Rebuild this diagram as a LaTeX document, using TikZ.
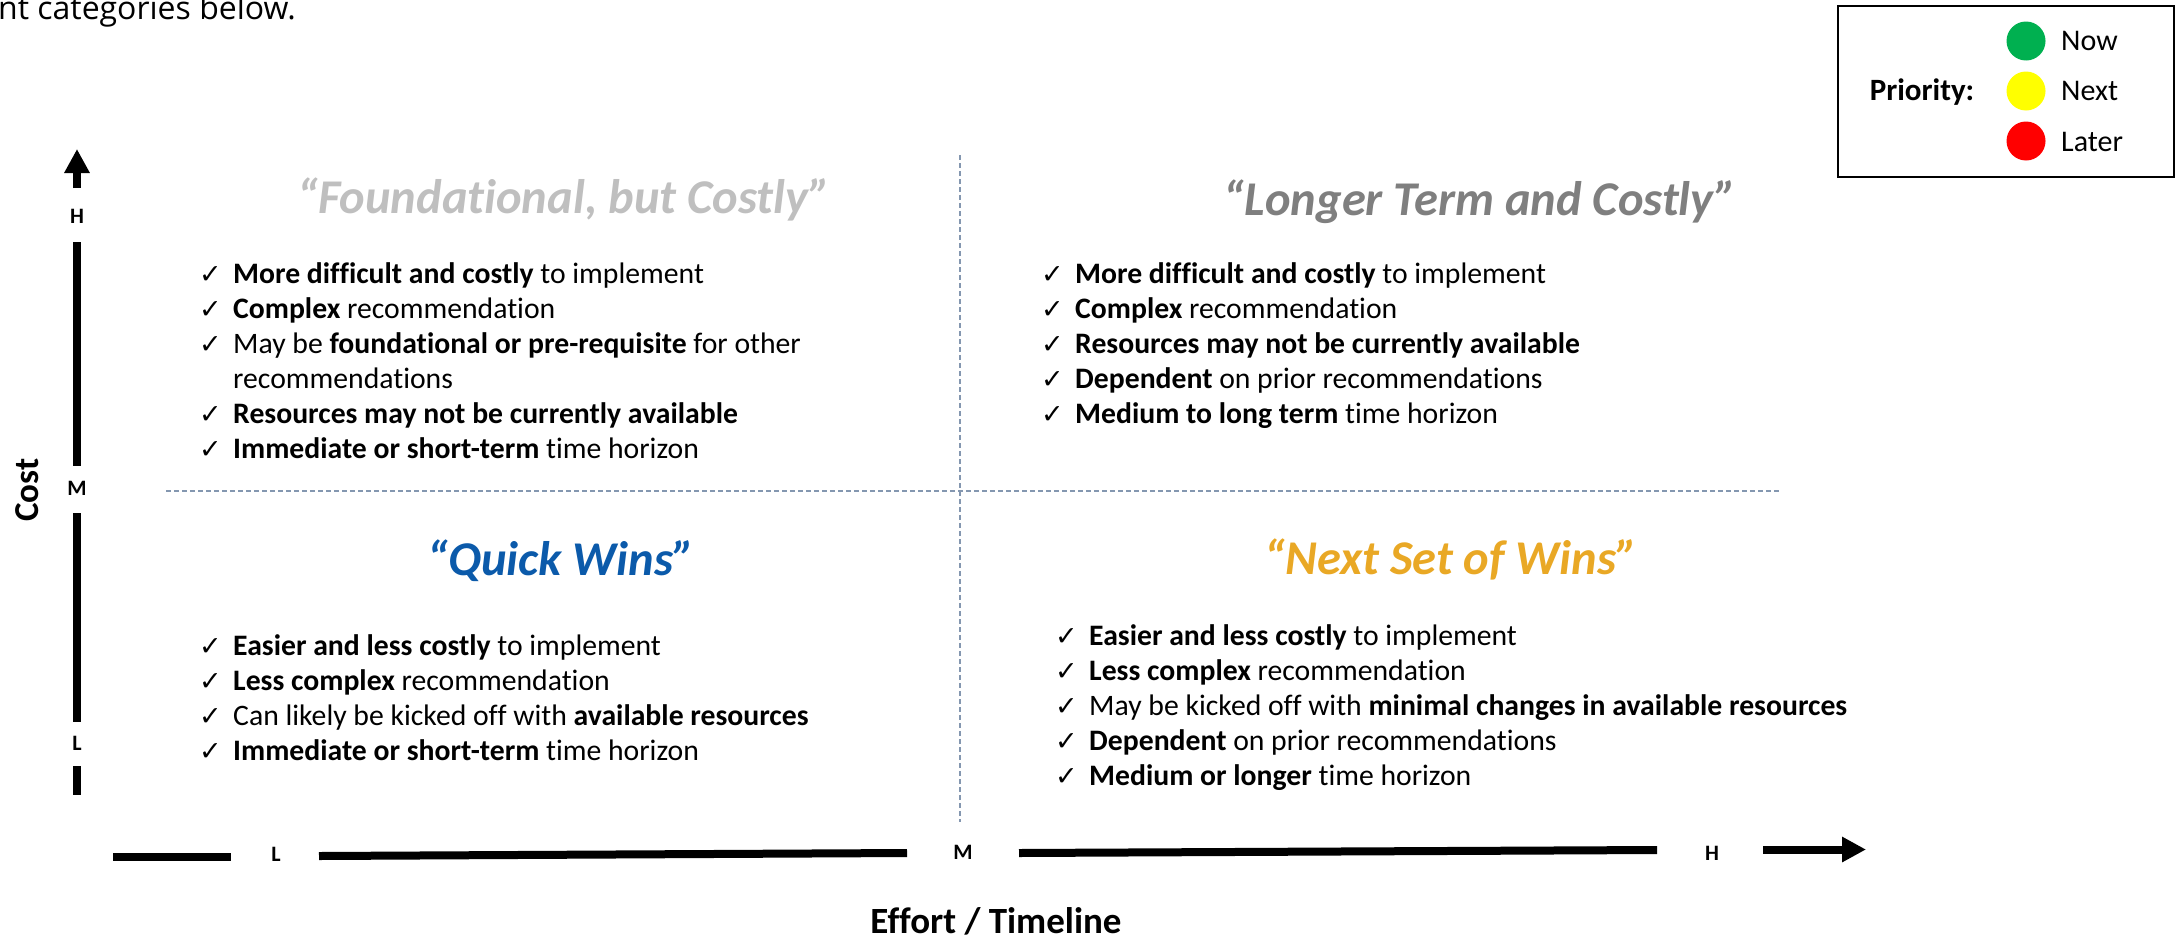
\documentclass[tikz,border=0pt]{standalone}
\usepackage{fontspec}
\setmainfont{Carlito}[Ligatures={NoCommon}]
\newfontfamily\osans{Open Sans}
\newfontfamily\djv{DejaVu Sans}
\usetikzlibrary{arrows.meta}
\definecolor{dashc}{HTML}{8497B0}
\definecolor{tgray}{HTML}{BFBFBF}
\definecolor{tdgray}{HTML}{7F7F7F}
\definecolor{tblue}{HTML}{0B5AAA}
\definecolor{tgold}{HTML}{E9A825}
\definecolor{lgreen}{HTML}{00B050}
\definecolor{lyellow}{HTML}{FFFF00}
\definecolor{lred}{HTML}{FF0000}
\newcommand\chkline[4]{%
  \node[chk] (#1c) at (#2,#3) {✓};
  \node[body] (#1) at (#2+34,#3) {#4};}
\begin{document}
\begin{tikzpicture}[x=1pt,y=-1pt,
  body/.style={anchor=base west, inner sep=0pt, font=\fontsize{29.7}{35}\selectfont},
  chk/.style={anchor=base west, inner sep=0pt, font=\djv\fontsize{27}{30}\selectfont},
  ttl/.style={anchor=base, inner sep=0pt, font=\fontsize{48.5}{58}\selectfont\bfseries\itshape},
  axl/.style={inner sep=0pt, font=\fontsize{22}{24}\selectfont\bfseries},
  axbar/.style={line width=8pt},
  axarrow/.style={line width=8pt, -{Triangle[length=24pt,width=24pt]}},
  dashln/.style={draw=dashc, line width=1.3pt, dash pattern=on 5pt off 3pt},
  lgd/.style={anchor=base west, inner sep=0pt, font=\fontsize{30}{36}\selectfont},
  dot/.style={circle, minimum size=39pt, inner sep=0pt}]
\useasboundingbox (0,0) rectangle (2175,940);

% top-left cut text
\node[anchor=base west, inner sep=0pt, font=\osans\fontsize{32}{38}\selectfont] (intro) at (-2,19) {nt categories below.};

% legend
\node[draw, line width=2pt, minimum width=336pt, minimum height=171pt, inner sep=0pt, anchor=north west] (lgbox) at (1837,5) {};
\node[anchor=base, inner sep=0pt, font=\fontsize{31}{36}\selectfont\bfseries] (prio) at (1922,100) {Priority:};
\node[dot, fill=lgreen] (dnow) at (2026,41) {};
\node[dot, fill=lyellow] (dnext) at (2026,91) {};
\node[dot, fill=lred] (dlater) at (2026,141) {};
\node[lgd] (tnow) at (2061,50) {Now};
\node[lgd] (tnext) at (2061,100) {Next};
\node[lgd] (tlater) at (2061,151) {Later};

% dashed quadrant lines
\coordinate (dvt) at (960,155);
\coordinate (dvb) at (960,822);
\coordinate (dhl) at (166,491);
\coordinate (dhr) at (1780,491);
\draw[dashln] (dvt) -- (dvb);
\draw[dashln] (dhl) -- (dhr);

% vertical axis
\coordinate (va0) at (77,188);
\coordinate (va1) at (77,149);
\draw[axarrow] (va0) -- (va1);
\node[axl] (vH) at (77,216) {H};
\coordinate (vb1t) at (77,242); \coordinate (vb1b) at (77,466);
\draw[axbar] (vb1t) -- (vb1b);
\node[axl] (vM) at (77,488) {M};
\coordinate (vb2t) at (77,513); \coordinate (vb2b) at (77,722);
\draw[axbar] (vb2t) -- (vb2b);
\node[axl] (vL) at (77,743) {L};
\coordinate (vb3t) at (77,766); \coordinate (vb3b) at (77,795);
\draw[axbar] (vb3t) -- (vb3b);
\node[rotate=90, inner sep=0pt, font=\fontsize{35}{40}\selectfont\bfseries] (cost) at (27,490) {Cost};

% horizontal axis
\coordinate (hb1l) at (113,857); \coordinate (hb1r) at (231,857);
\draw[axbar] (hb1l) -- (hb1r);
\node[axl] (hL) at (276,854) {L};
\coordinate (hb2l) at (319,856); \coordinate (hb2r) at (907,853);
\draw[axbar] (hb2l) -- (hb2r);
\node[axl] (hM) at (963,852) {M};
\coordinate (hb3l) at (1019,853); \coordinate (hb3r) at (1657,850);
\draw[axbar] (hb3l) -- (hb3r);
\node[axl] (hH) at (1712,853) {H};
\coordinate (ha0) at (1763,849.5); \coordinate (ha1) at (1866,849.5);
\draw[axarrow] (ha0) -- (ha1);
\node[anchor=base, inner sep=0pt, font=\fontsize{37}{42}\selectfont\bfseries] (effort) at (996,933) {Effort / Timeline};

% titles
\node[ttl, text=tgray] (t1) at (564,213) {“Foundational, but Costly”};
\node[ttl, text=tdgray] (t2) at (1480,215) {“Longer Term and Costly”};
\node[ttl, text=tblue] (t3) at (561,575) {“Quick Wins”};
\node[ttl, text=tgold] (t4) at (1451,574) {“Next Set of Wins”};

% top-left quadrant
\chkline{a1}{199}{283}{\textbf{More difficult and costly} to implement}
\chkline{a2}{199}{318}{\textbf{Complex} recommendation}
\chkline{a3}{199}{353}{May be \textbf{foundational or pre-requisite} for other}
\node[body] (a4) at (233,388) {recommendations};
\chkline{a5}{199}{423}{\textbf{Resources may not be currently available}}
\chkline{a6}{199}{458}{\textbf{Immediate or short-term} time horizon}

% top-right quadrant
\chkline{b1}{1041}{283}{\textbf{More difficult and costly} to implement}
\chkline{b2}{1041}{318}{\textbf{Complex} recommendation}
\chkline{b3}{1041}{353}{\textbf{Resources may not be currently available}}
\chkline{b4}{1041}{388}{\textbf{Dependent} on prior recommendations}
\chkline{b5}{1041}{423}{\textbf{Medium to long term} time horizon}

% bottom-left quadrant
\chkline{c1}{199}{655}{\textbf{Easier and less costly} to implement}
\chkline{c2}{199}{690}{\textbf{Less complex} recommendation}
\chkline{c3}{199}{725}{Can likely be kicked off with \textbf{available resources}}
\chkline{c4}{199}{760}{\textbf{Immediate or short-term} time horizon}

% bottom-right quadrant
\chkline{d1}{1055}{645}{\textbf{Easier and less costly} to implement}
\chkline{d2}{1055}{680}{\textbf{Less complex} recommendation}
\chkline{d3}{1055}{715}{May be kicked off with \textbf{minimal changes in available resources}}
\chkline{d4}{1055}{750}{\textbf{Dependent} on prior recommendations}
\chkline{d5}{1055}{785}{\textbf{Medium or longer} time horizon}
\end{tikzpicture}
\end{document}
